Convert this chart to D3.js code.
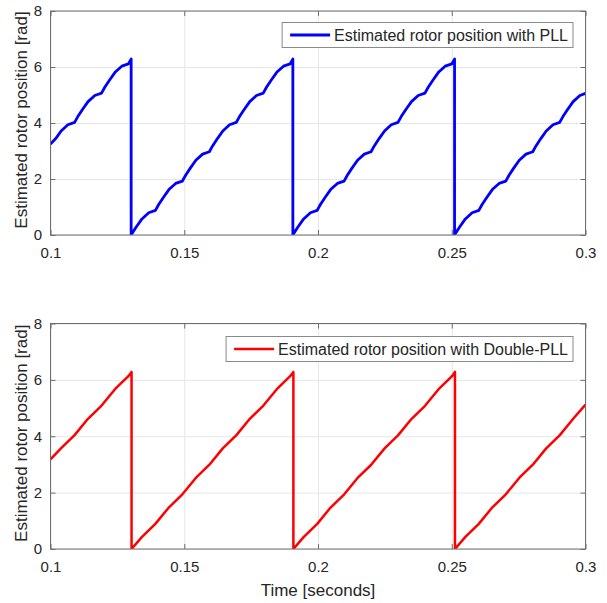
<!DOCTYPE html>
<html>
<head>
<meta charset="utf-8">
<script src="https://cdn.jsdelivr.net/npm/d3@7"></script>
<style>
  body { margin: 0; background: #fff; }
  text { font-family: "Liberation Sans", Arial, sans-serif; fill: #262626; }
</style>
</head>
<body>
<svg id="chart"></svg>
<script>
const WIDTH = 607;
const HEIGHT = 603;

const xTicks = [0.1, 0.15, 0.2, 0.25, 0.3];
const yTicks = [0, 2, 4, 6, 8];
const yLabel = "Estimated rotor position [rad]";
const xLabel = "Time [seconds]";
const legendLabels = ["Estimated rotor position with PLL", "Estimated rotor position with Double-PLL"];

// PLL estimate (scalloped sawtooth)
const pllTime = [
  0.1000, 0.10195, 0.10397, 0.10649,
  0.10900, 0.11021, 0.11202, 0.11404, 0.11656,
  0.11908, 0.12029, 0.12210, 0.12412, 0.12664,
  0.12915, 0.13015, 0.13015, 0.13036, 0.13217, 0.13419, 0.13671,
  0.13923, 0.14044, 0.14225, 0.14427, 0.14679,
  0.14930, 0.15051, 0.15232, 0.15434, 0.15686,
  0.15938, 0.16059, 0.16240, 0.16442, 0.16694,
  0.16945, 0.17066, 0.17247, 0.17449, 0.17701,
  0.17953, 0.18074, 0.18255, 0.18457, 0.18709,
  0.18960, 0.19060, 0.19060, 0.19081, 0.19262, 0.19464, 0.19716,
  0.19968, 0.20089, 0.20270, 0.20472, 0.20724,
  0.20975, 0.21096, 0.21277, 0.21479, 0.21731,
  0.21983, 0.22104, 0.22285, 0.22487, 0.22739,
  0.22990, 0.23111, 0.23292, 0.23494, 0.23746,
  0.23998, 0.24119, 0.24300, 0.24502, 0.24754,
  0.25005, 0.25105, 0.25105, 0.25126, 0.25307, 0.25509, 0.25761,
  0.26013, 0.26134, 0.26315, 0.26517, 0.26769,
  0.27020, 0.27141, 0.27322, 0.27524, 0.27776,
  0.28028, 0.28149, 0.28330, 0.28532, 0.28784,
  0.29035, 0.29156, 0.29337, 0.29539, 0.29791,
  0.30000
];
const pllAngle = [
  3.25, 3.444, 3.716, 3.936,
  4.020, 4.229, 4.491, 4.763, 4.983,
  5.067, 5.276, 5.538, 5.810, 6.030,
  6.114, 6.283, 0, 0.040, 0.302, 0.574, 0.794,
  0.879, 1.088, 1.350, 1.622, 1.842,
  1.926, 2.135, 2.397, 2.669, 2.889,
  2.973, 3.182, 3.444, 3.716, 3.936,
  4.020, 4.229, 4.491, 4.763, 4.983,
  5.067, 5.276, 5.538, 5.810, 6.030,
  6.114, 6.283, 0, 0.040, 0.302, 0.574, 0.794,
  0.879, 1.088, 1.350, 1.622, 1.842,
  1.926, 2.135, 2.397, 2.669, 2.889,
  2.973, 3.182, 3.444, 3.716, 3.936,
  4.020, 4.229, 4.491, 4.763, 4.983,
  5.067, 5.276, 5.538, 5.810, 6.030,
  6.114, 6.283, 0, 0.040, 0.302, 0.574, 0.794,
  0.879, 1.088, 1.350, 1.622, 1.842,
  1.926, 2.135, 2.397, 2.669, 2.889,
  2.973, 3.182, 3.444, 3.716, 3.936,
  4.020, 4.229, 4.491, 4.763, 4.983,
  5.060
];

// Double-PLL estimate (almost straight ramps)
const dpllTime = [
  0.1000, 0.1040, 0.1090, 0.1140, 0.1191, 0.1241, 0.1292, 0.1303,
  0.1303, 0.1342, 0.1392, 0.1443, 0.1493, 0.1544, 0.1594, 0.1644,
  0.1695, 0.1745, 0.1795, 0.1846, 0.1896, 0.1908,
  0.1908, 0.1946, 0.1997, 0.2047, 0.2098, 0.2148, 0.2198, 0.2249,
  0.2299, 0.2350, 0.2400, 0.2450, 0.2501, 0.2512,
  0.2512, 0.2551, 0.2601, 0.2652, 0.2702, 0.2753, 0.2803, 0.2853,
  0.2904, 0.2954, 0.3000
];
const dpllAngle = [
  3.18, 3.58, 4.04, 4.62, 5.09, 5.67, 6.14, 6.283,
  0, 0.43, 0.89, 1.48, 1.94, 2.53, 2.99, 3.57,
  4.04, 4.62, 5.08, 5.67, 6.13, 6.283,
  0, 0.42, 0.89, 1.47, 1.94, 2.52, 2.98, 3.57,
  4.03, 4.62, 5.08, 5.66, 6.13, 6.283,
  0, 0.43, 0.89, 1.48, 1.94, 2.53, 2.99, 3.57,
  4.04, 4.62, 5.12
];

const svg = d3.select("#chart")
  .attr("width", WIDTH)
  .attr("height", HEIGHT);

svg.append("rect")
  .attr("width", "100%")
  .attr("height", "100%")
  .attr("fill", "white");

const x = d3.scaleLinear().domain([0.1, 0.3]).range([50.5, 585.5]);

function drawPanel(id, top, bottom, times, values, color, width, label, legendTop, showXLabel) {
  const y = d3.scaleLinear().domain([0, 8]).range([bottom, top]);
  const g = svg.append("g").attr("id", id);
  const h = bottom - top;
  const w = x.range()[1] - x.range()[0];

  // grid
  g.append("g")
    .attr("transform", `translate(0,${bottom})`)
    .call(d3.axisBottom(x).tickValues(xTicks).tickSize(-h).tickFormat(""))
    .call(a => a.select(".domain").remove())
    .selectAll("line").attr("stroke", "#e6e6e6");
  g.append("g")
    .attr("transform", `translate(${x.range()[0]},0)`)
    .call(d3.axisLeft(y).tickValues(yTicks).tickSize(-w).tickFormat(""))
    .call(a => a.select(".domain").remove())
    .selectAll("line").attr("stroke", "#e6e6e6");

  // data line
  g.append("clipPath").attr("id", id + "-clip")
    .append("rect")
    .attr("x", x.range()[0]).attr("y", top)
    .attr("width", w).attr("height", h);

  const pts = times.map((t, i) => [t, values[i]]);
  const line = d3.line().x(d => x(d[0])).y(d => y(d[1]));
  g.append("path")
    .datum(pts)
    .attr("clip-path", `url(#${id}-clip)`)
    .attr("d", line)
    .attr("fill", "none")
    .attr("stroke", color)
    .attr("stroke-width", width)
    .attr("stroke-linejoin", "round");

  // axes with inward ticks on all four sides
  const bottomAxis = g.append("g")
    .attr("transform", `translate(0,${bottom})`)
    .call(d3.axisBottom(x).tickValues(xTicks).tickSizeInner(-5).tickSizeOuter(0)
      .tickPadding(12).tickFormat(d => String(d)));
  const leftAxis = g.append("g")
    .attr("transform", `translate(${x.range()[0]},0)`)
    .call(d3.axisLeft(y).tickValues(yTicks).tickSizeInner(-5).tickSizeOuter(0)
      .tickPadding(8.5).tickFormat(d => String(d)));
  const topAxis = g.append("g")
    .attr("transform", `translate(0,${top})`)
    .call(d3.axisTop(x).tickValues(xTicks).tickSizeInner(-5).tickSizeOuter(0).tickFormat(""));
  const rightAxis = g.append("g")
    .attr("transform", `translate(${x.range()[1]},0)`)
    .call(d3.axisRight(y).tickValues(yTicks).tickSizeInner(-5).tickSizeOuter(0).tickFormat(""));

  [bottomAxis, leftAxis, topAxis, rightAxis].forEach(a => {
    a.select(".domain").remove();
    a.selectAll("line").attr("stroke", "#6e6e6e");
    a.selectAll("text")
      .style("font-size", "15px")
      .style("font-family", "'Liberation Sans', Arial, sans-serif")
      .attr("fill", "#262626");
  });

  g.append("rect")
    .attr("x", x.range()[0]).attr("y", top)
    .attr("width", w).attr("height", h)
    .attr("fill", "none")
    .attr("stroke", "#6e6e6e")
    .attr("stroke-width", 1);

  // y label
  g.append("text")
    .attr("transform", `translate(27,${(top + bottom) / 2 - 3}) rotate(-90)`)
    .attr("text-anchor", "middle")
    .style("font-size", "17px")
    .text(yLabel);

  if (showXLabel) {
    g.append("text")
      .attr("x", (x.range()[0] + x.range()[1]) / 2)
      .attr("y", 596)
      .attr("text-anchor", "middle")
      .style("font-size", "17px")
      .text(xLabel);
  }

  // legend, anchored to the right of the axes
  const legend = g.append("g");
  const box = legend.append("rect");
  const txt = legend.append("text")
    .style("font-size", "16px")
    .text(label);
  const textLen = txt.node().getComputedTextLength();
  const boxRight = 573;
  const boxLeft = boxRight - (textLen + 57);
  box.attr("x", boxLeft).attr("y", legendTop)
    .attr("width", boxRight - boxLeft).attr("height", 25)
    .attr("fill", "white")
    .attr("stroke", "#8a8a8a")
    .attr("stroke-width", 1);
  legend.append("line")
    .attr("x1", boxLeft + 8).attr("x2", boxLeft + 48)
    .attr("y1", legendTop + 12.5).attr("y2", legendTop + 12.5)
    .attr("stroke", color)
    .attr("stroke-width", width);
  txt.attr("x", boxLeft + 52).attr("y", legendTop + 12.5).attr("dy", "0.35em");
}

drawPanel("pll", 11, 235, pllTime, pllAngle, "#0000ff", 2.8, legendLabels[0], 22.5, false);
drawPanel("dpll", 323.5, 549, dpllTime, dpllAngle, "#ff0000", 2.5, legendLabels[1], 336.5, true);
</script>
</body>
</html>
